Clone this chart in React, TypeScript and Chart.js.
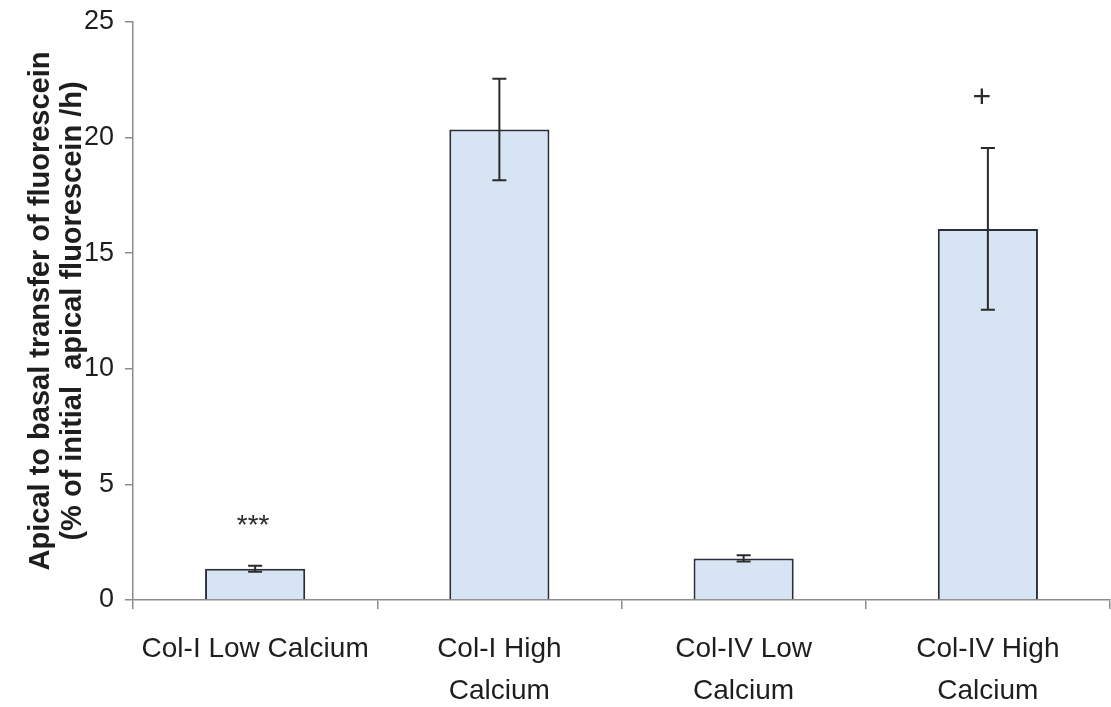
import React, { useEffect, useRef } from "react";
import { Chart, registerables } from "chart.js";

Chart.register(...registerables);

const categories: string[][] = [
  ["Col-I Low Calcium"],
  ["Col-I High", "Calcium"],
  ["Col-IV Low", "Calcium"],
  ["Col-IV High", "Calcium"],
];
const meanValues: number[] = [1.35, 20.35, 1.8, 16.05];
const errorValues: number[] = [0.13, 2.2, 0.14, 3.5];
const yTicks: number[] = [0, 5, 10, 15, 20, 25];
const markTexts: string[] = ["***", "", "", "+"];
const markValues: number[] = [3.2, 0, 0, 21.7];
const yTitle: string[] = [
  "Apical to basal transfer of fluorescein",
  "(% of initial  apical fluorescein /h)",
];

const FONT = "'Liberation Sans', Arial, Helvetica, sans-serif";

const errorBarPlugin = {
  id: "errorBars",
  afterDatasetsDraw(chart: any) {
    const { ctx, scales } = chart;
    const meta = chart.getDatasetMeta(0);
    ctx.save();
    ctx.strokeStyle = "#2b2b2b";
    ctx.lineWidth = 2;
    meta.data.forEach((bar: any, i: number) => {
      const x = bar.x;
      const yTop = scales.y.getPixelForValue(meanValues[i] + errorValues[i]);
      const yBot = scales.y.getPixelForValue(meanValues[i] - errorValues[i]);
      const cap = 7;
      ctx.beginPath();
      ctx.moveTo(x, yTop);
      ctx.lineTo(x, yBot);
      ctx.moveTo(x - cap, yTop);
      ctx.lineTo(x + cap, yTop);
      ctx.moveTo(x - cap, yBot);
      ctx.lineTo(x + cap, yBot);
      ctx.stroke();
      const t = markTexts[i];
      if (t) {
        ctx.fillStyle = "#2b2b2b";
        ctx.font = `${t === "+" ? 32 : 28}px ${FONT}`;
        ctx.textAlign = "center";
        ctx.textBaseline = "middle";
        ctx.fillText(t, x - (t === "+" ? 6 : 2), scales.y.getPixelForValue(markValues[i]));
      }
    });
    ctx.restore();
  },
};

export default function App() {
  const ref = useRef<HTMLCanvasElement | null>(null);

  useEffect(() => {
    document.body.style.margin = "0";
    const canvas = ref.current;
    if (!canvas) return;
    const chart = new Chart(canvas, {
      type: "bar",
      data: {
        labels: categories,
        datasets: [
          {
            data: meanValues,
            backgroundColor: "#d6e4f4",
            borderColor: "#2a2d3a",
            borderWidth: 2,
            barPercentage: 0.41,
            categoryPercentage: 1,
          },
        ],
      },
      options: {
        animation: false,
        responsive: false,
        maintainAspectRatio: false,
        layout: { padding: { left: 0, right: 1, top: 22, bottom: 0 } },
        plugins: {
          legend: { display: false },
          tooltip: { enabled: false },
        },
        scales: {
          x: {
            offset: true,
            grid: {
              offset: true,
              drawOnChartArea: false,
              drawTicks: true,
              tickLength: 9,
              color: "#8c8c8c",
              lineWidth: 1.5,
            },
            border: { display: true, color: "#8c8c8c", width: 1.5 },
            ticks: {
              color: "#1e1e1e",
              font: { family: FONT, size: 28, lineHeight: 1.5 },
              padding: 19,
              maxRotation: 0,
              autoSkip: false,
            },
            afterFit(scale: any) {
              scale.height = 107;
            },
          },
          y: {
            min: 0,
            max: 25,
            afterBuildTicks(scale: any) {
              scale.ticks = yTicks.map((v) => ({ value: v }));
            },
            grid: {
              drawOnChartArea: false,
              drawTicks: true,
              tickLength: 8,
              color: "#8c8c8c",
              lineWidth: 1.5,
            },
            border: { display: true, color: "#8c8c8c", width: 1.5 },
            ticks: {
              color: "#1e1e1e",
              font: { family: FONT, size: 27, lineHeight: 1 },
              padding: 11,
            },
            title: {
              display: true,
              text: yTitle,
              color: "#1e1e1e",
              font: { family: FONT, size: 29, weight: "bold", lineHeight: 1.1 },
              padding: { top: 25, bottom: 0 },
            },
            afterFit(scale: any) {
              scale.width = 133;
              scale.paddingTop = 0;
            },
          },
        },
      },
      plugins: [errorBarPlugin],
    });
    return () => chart.destroy();
  }, []);

  return (
    <div style={{ width: 1111, height: 707, background: "#fff" }}>
      <canvas ref={ref} width={1111} height={707} style={{ display: "block" }} />
    </div>
  );
}
